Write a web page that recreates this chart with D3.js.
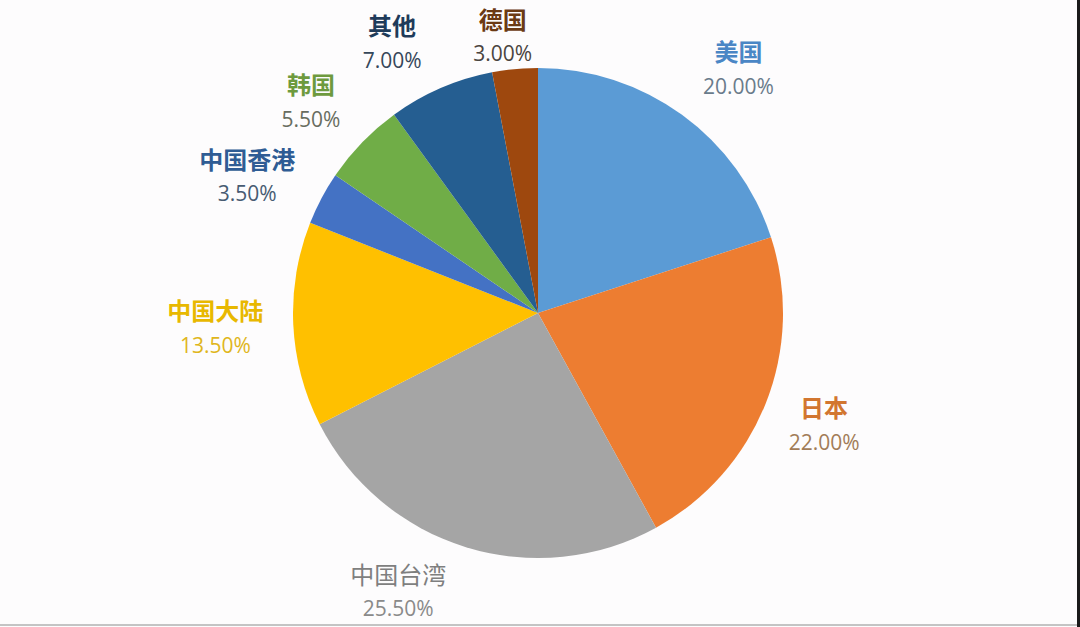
<!DOCTYPE html>
<html>
<head>
<meta charset="utf-8">
<script src="https://cdn.jsdelivr.net/npm/d3@7"></script>
<style>
  html, body { margin: 0; padding: 0; background: #fdfcfd; }
  svg { display: block; }
</style>
</head>
<body>
<svg id="pie"></svg>
<script>
// chart data
const regions = ["美国", "日本", "中国台湾", "中国大陆", "中国香港", "韩国", "其他", "德国"];
const shares = [20.0, 22.0, 25.5, 13.5, 3.5, 5.5, 7.0, 3.0];

const sliceColors = ["#5b9bd5", "#ed7d31", "#a5a5a5", "#ffc000", "#4472c4", "#70ad47", "#255e91", "#9e480e"];
const nameColors = ["#4a86c5", "#d27630", "#7f7f7f", "#e8b800", "#2f5c94", "#6e9a3e", "#1f3b5a", "#6b3a14"];
const pctColors = ["#6a7b8b", "#a27c58", "#8a8a8a", "#e0b61c", "#475b72", "#686d60", "#36475a", "#4a4440"];

// hand nudges so labels sit where the original puts them
const labelNudge = {
    "美国": [17, 7], "日本": [-4, -4], "中国台湾": [-48, -21], "中国大陆": [-11, -1],
    "中国香港": [-15, 8], "韩国": [-3, 5], "其他": [-22, 15], "德国": [-6, 33]
};

const width = 1080;
const height = 627;
const cx = 538, cy = 313;
const radius = 245;
const labelRadius = 312;

const svg = d3.select("#pie")
    .attr("width", width)
    .attr("height", height);

const data = regions.map((r, i) => ({ name: r, value: shares[i], i: i }));

const pie = d3.pie()
    .value(d => d.value)
    .sort(null);

const arc = d3.arc()
    .innerRadius(0)
    .outerRadius(radius);

const arcs = pie(data);

const g = svg.append("g")
    .attr("transform", `translate(${cx}, ${cy})`);

g.selectAll("path")
    .data(arcs)
    .enter().append("path")
    .attr("d", arc)
    .attr("fill", d => sliceColors[d.data.i]);

// labels
const labelPos = d => {
    const a = (d.startAngle + d.endAngle) / 2;
    const n = labelNudge[d.data.name];
    return [labelRadius * Math.sin(a) + n[0], -labelRadius * Math.cos(a) + n[1]];
};

const labels = g.selectAll(".label")
    .data(arcs)
    .enter().append("g")
    .attr("class", "label")
    .attr("transform", d => `translate(${labelPos(d)})`);

labels.append("text")
    .attr("y", -17)
    .attr("text-anchor", "middle")
    .attr("dominant-baseline", "central")
    .attr("font-family", "'Noto Sans CJK SC', 'Noto Sans', sans-serif")
    .attr("font-size", "24px")
    .attr("font-weight", d => d.data.name === "中国台湾" ? 400 : 700)
    .attr("fill", d => nameColors[d.data.i])
    .text(d => d.data.name);

labels.append("text")
    .attr("y", 18)
    .attr("text-anchor", "middle")
    .attr("dominant-baseline", "central")
    .attr("font-family", "'Open Sans', 'Noto Sans', sans-serif")
    .attr("font-size", "21px")
    .attr("fill", d => pctColors[d.data.i])
    .text(d => d.data.value.toFixed(2) + "%");

// thin frame bits seen at the image edges
svg.append("line")
    .attr("x1", 0).attr("x2", width)
    .attr("y1", height - 2).attr("y2", height - 2)
    .attr("stroke", "#c4c4c4")
    .attr("stroke-width", 2);
svg.append("rect")
    .attr("x", width - 3).attr("y", 0)
    .attr("width", 3).attr("height", height)
    .attr("fill", "#1a1a1a");
</script>
</body>
</html>
